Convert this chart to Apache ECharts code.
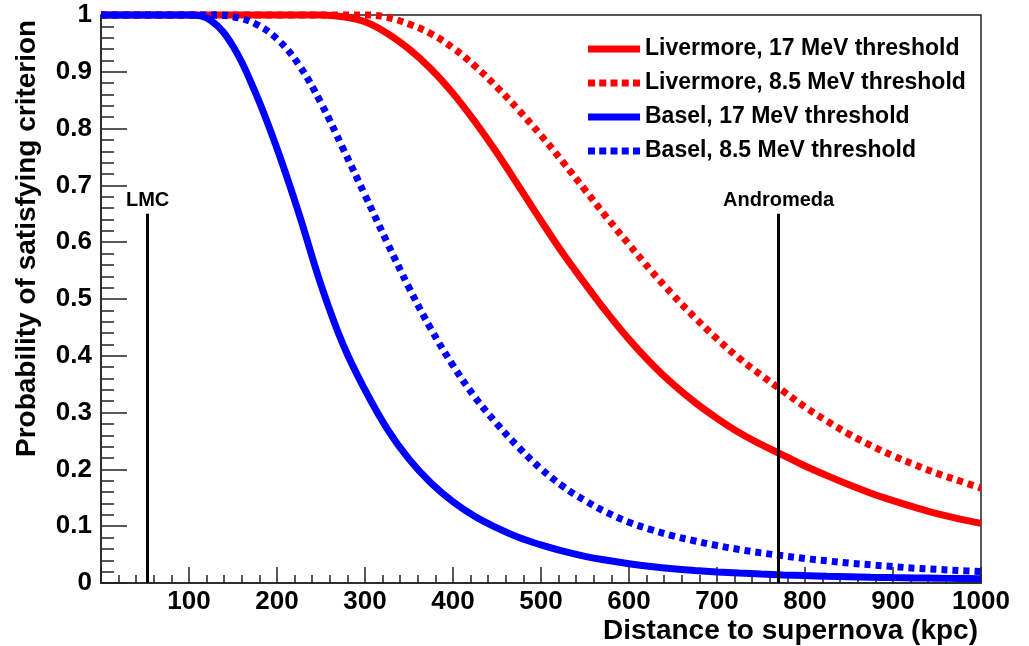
<!DOCTYPE html>
<html>
<head>
<meta charset="utf-8">
<script src="https://cdn.jsdelivr.net/npm/echarts@6/dist/echarts.min.js"></script>
<style>
  html, body { margin: 0; padding: 0; background: #fff; }
  #container { width: 1029px; height: 646px; }
</style>
</head>
<body>
<div id="container"></div>
<script>
// distance (kpc) shared by all curves
var distance = [0, 25, 50, 75, 100, 125, 150, 175, 200, 225, 250, 275, 300, 325, 350, 375, 400,
  425, 450, 475, 500, 525, 550, 575, 600, 625, 650, 675, 700, 725, 750, 775, 800, 825, 850,
  875, 900, 925, 950, 975, 1000];

var livermore17 = [1, 1, 1, 1, 1, 1, 1, 1, 1, 1, 1, 0.997, 0.988, 0.968, 0.94, 0.905, 0.862,
  0.812, 0.757, 0.698, 0.638, 0.58, 0.527, 0.476, 0.429, 0.387, 0.35, 0.318, 0.29, 0.265,
  0.244, 0.225, 0.206, 0.189, 0.173, 0.158, 0.145, 0.133, 0.122, 0.113, 0.105];

var livermore85 = [1, 1, 1, 1, 1, 1, 1, 1, 1, 1, 1, 1, 1, 0.996, 0.984, 0.967, 0.942,
  0.91, 0.873, 0.832, 0.788, 0.741, 0.692, 0.643, 0.596, 0.55, 0.507, 0.467, 0.43, 0.396,
  0.366, 0.338, 0.31, 0.285, 0.262, 0.242, 0.224, 0.208, 0.193, 0.18, 0.167];

var basel17 = [1, 1, 1, 1, 1, 0.99, 0.945, 0.865, 0.765, 0.65, 0.525, 0.42, 0.34, 0.272, 0.218,
  0.176, 0.143, 0.117, 0.097, 0.08, 0.067, 0.056, 0.047, 0.04, 0.034, 0.029, 0.025, 0.022,
  0.0195, 0.0175, 0.0158, 0.0143, 0.013, 0.0119, 0.011, 0.0102, 0.0095, 0.0089, 0.0084,
  0.0079, 0.0075];

var basel85 = [1, 1, 1, 1, 1, 1, 0.997, 0.985, 0.958, 0.912, 0.845, 0.765, 0.683, 0.6, 0.52,
  0.447, 0.383, 0.327, 0.28, 0.238, 0.201, 0.17, 0.145, 0.124, 0.107, 0.094, 0.083, 0.074,
  0.066, 0.059, 0.053, 0.048, 0.043, 0.039, 0.035, 0.032, 0.029, 0.026, 0.024, 0.022, 0.02];

var seriesNames = ['Livermore, 17 MeV threshold', 'Livermore, 8.5 MeV threshold',
  'Basel, 17 MeV threshold', 'Basel, 8.5 MeV threshold'];

// reference galaxies marked by vertical lines
var markerNames = ['LMC', 'Andromeda'];
var markerDistance = [53, 770];
var markerTop = 0.65;

window.onload = function() {

var chartDom = document.getElementById('container');
var myChart = echarts.init(chartDom);
var option;

var FONT = '"Liberation Sans", Arial, Helvetica, sans-serif';

// legend icons: a full bar and a row of five dashes
var solidIcon = 'path://M0,0h52v7h-52z';
var dashIcon = 'path://M0,0h7v7h-7z M11.25,0h7v7h-7z M22.5,0h7v7h-7z M33.75,0h7v7h-7z M45,0h7v7h-7z';

function pairs(ys) {
  return distance.map(function (d, i) { return [d, ys[i]]; });
}

function curve(name, ys, color, dashed) {
  return {
    name: name,
    type: 'line',
    data: pairs(ys),
    smooth: 0.4,
    showSymbol: false,
    symbol: 'none',
    clip: false,
    lineStyle: { color: color, width: 7, type: dashed ? [6, 5] : 'solid', cap: 'butt' },
    itemStyle: { color: color }
  };
}

var markLines = markerNames.map(function (n, i) {
  return [
    { coord: [markerDistance[i], 0] },
    { coord: [markerDistance[i], markerTop], name: n }
  ];
});

option = {
  animation: false,
  backgroundColor: '#fff',
  grid: {
    left: 101, right: 48, top: 15, bottom: 63,
    show: true, borderColor: '#222', borderWidth: 1.5, backgroundColor: 'transparent'
  },
  legend: {
    data: [
      { name: seriesNames[0], icon: solidIcon },
      { name: seriesNames[1], icon: dashIcon },
      { name: seriesNames[2], icon: solidIcon },
      { name: seriesNames[3], icon: dashIcon }
    ],
    orient: 'vertical',
    left: 583,
    top: 32,
    itemWidth: 52,
    itemHeight: 7,
    itemGap: 10,
    textStyle: { fontFamily: FONT, fontSize: 23, fontWeight: 'bold', color: '#000', lineHeight: 24 }
  },
  xAxis: {
    type: 'value',
    min: 0, max: 1000, interval: 100,
    axisLine: { lineStyle: { color: '#222', width: 1.5 } },
    axisTick: { inside: true, length: 16, lineStyle: { color: '#222', width: 1.5 } },
    minorTick: { show: true, splitNumber: 5, length: 8, lineStyle: { color: '#222', width: 1.5 } },
    splitLine: { show: false },
    axisLabel: {
      margin: 6, fontFamily: FONT, fontSize: 26, fontWeight: 'bold', color: '#000',
      formatter: function (v) { return v === 0 ? '' : String(v); }
    }
  },
  yAxis: {
    type: 'value',
    min: 0, max: 1, interval: 0.1,
    axisLine: { lineStyle: { color: '#222', width: 1.5 } },
    axisTick: { inside: true, length: 26, lineStyle: { color: '#222', width: 1.5 } },
    minorTick: { show: true, splitNumber: 5, length: 13, lineStyle: { color: '#222', width: 1.5 } },
    splitLine: { show: false },
    axisLabel: { margin: 9, fontFamily: FONT, fontSize: 26, fontWeight: 'bold', color: '#000' }
  },
  graphic: [
    {
      type: 'text', x: 978, y: 631,
      style: {
        text: 'Distance to supernova (kpc)', font: 'bold 28px ' + FONT,
        fill: '#000', align: 'right', verticalAlign: 'middle'
      }
    },
    {
      type: 'text', x: 27, y: 457, rotation: Math.PI / 2,
      style: {
        text: 'Probability of satisfying criterion', font: 'bold 28px ' + FONT,
        fill: '#000', align: 'left', verticalAlign: 'middle'
      }
    }
  ],
  series: [
    curve(seriesNames[0], livermore17, '#ff0000', false),
    curve(seriesNames[1], livermore85, '#ff0000', true),
    curve(seriesNames[2], basel17, '#0000ff', false),
    curve(seriesNames[3], basel85, '#0000ff', true),
    {
      name: 'markers',
      type: 'line',
      data: [],
      markLine: {
        silent: true,
        symbol: 'none',
        lineStyle: { color: '#000', width: 3, type: 'solid' },
        label: {
          show: true, position: 'end', distance: 3, formatter: '{b}',
          fontFamily: FONT, fontSize: 20, fontWeight: 'bold', color: '#000'
        },
        data: markLines
      }
    }
  ]
};

option && myChart.setOption(option);

}
</script>
</body>
</html>
